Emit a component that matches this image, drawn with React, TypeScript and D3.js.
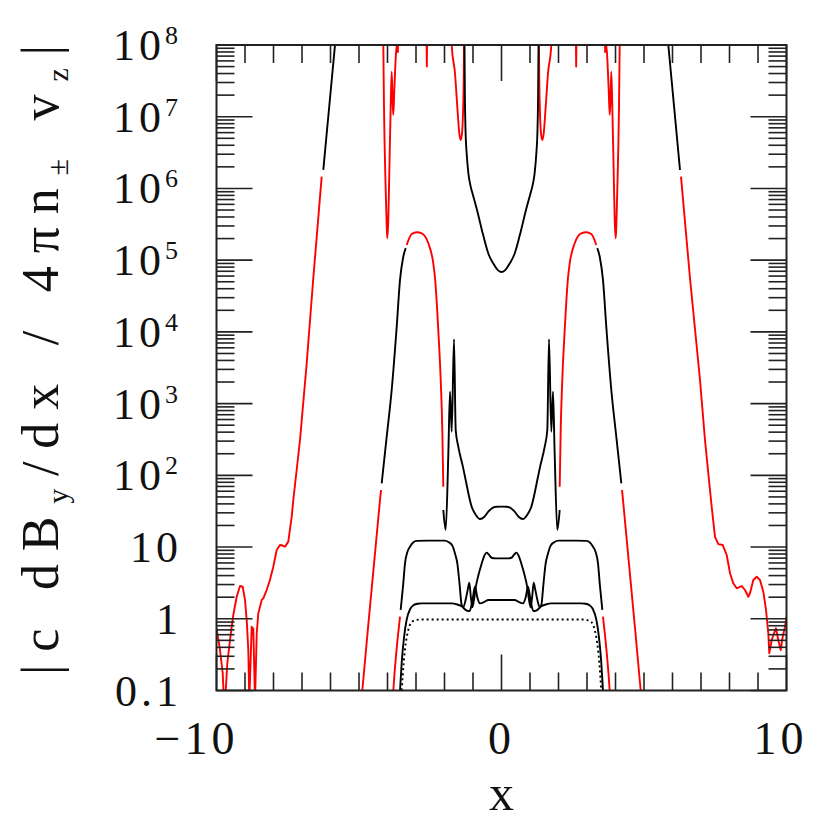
import React, { useEffect, useRef } from 'react';
import * as d3 from 'd3';

type Pt = [number, number];

// outer curve, left side (red part rising from the noisy tail, then black to the top)
const outerLeftRed: Pt[] = [
  [-10, 0.736], [-9.93, 0.5], [-9.877, 0.367], [-9.782, 0.174], [-9.737, 0.07], [-9.69, 0.08],
  [-9.621, 0.239], [-9.526, 0.506], [-9.411, 1.13], [-9.291, 2.03], [-9.175, 2.86], [-9.081, 2.8],
  [-9.0, 1.83], [-8.94, 0.96], [-8.884, 0.367], [-8.849, 0.07], [-8.765, 0.776], [-8.73, 0.628],
  [-8.709, 0.736], [-8.649, 0.07], [-8.589, 0.628], [-8.533, 1.19], [-8.414, 1.83], [-8.358, 1.93],
  [-8.239, 2.52], [-8.125, 3.47], [-8.007, 5.32], [-7.888, 9.1], [-7.772, 10.7], [-7.68, 10.5],
  [-7.596, 10.1], [-7.481, 11.9], [-7.361, 26.5], [-7.305, 45.3], [-7.07, 311], [-6.835, 3650],
  [-6.604, 5.59e4], [-6.309, 1.46e6],
];
const outerLeftBlack: Pt[] = [[-6.253, 1.81e6], [-5.842, 1e8], [-5.75, 2.5e8]];
const outerRightBlack: Pt[] = [[5.75, 2.5e8], [5.853, 1e8], [6.263, 1.81e6]];
const outerRightRed: Pt[] = [
  [6.298, 1.46e6], [6.614, 5.59e4], [6.965, 2135], [7.14, 311], [7.256, 107], [7.375, 36.5],
  [7.491, 13.9], [7.607, 11.0], [7.761, 10.7], [7.902, 7.75], [8.018, 4.31], [8.133, 3.12],
  [8.253, 2.66], [8.428, 2.86], [8.544, 2.52], [8.66, 2.03], [8.719, 2.27], [8.835, 3.47],
  [8.954, 3.86], [9.07, 3.47], [9.186, 2.39], [9.281, 1.33], [9.361, 0.628], [9.396, 0.33],
  [9.481, 0.506], [9.561, 0.628], [9.632, 0.736], [9.712, 0.506], [9.796, 0.367], [9.867, 0.562],
  [9.947, 0.776], [10.0, 1.07],
];

// red dips hanging from the top near x = -4 and x = 4
const dipLeft: Pt[] = [
  [-4.18, 3e8], [-4.147, 1e8], [-4.123, 1.38e7], [-4.063, 9.5e5], [-4.028, 2.93e5], [-4.007, 2.02e5],
  [-3.972, 3.63e5], [-3.937, 1.63e6], [-3.888, 1.38e7], [-3.853, 4.25e7], [-3.82, 1.6e7],
  [-3.796, 1.06e7], [-3.761, 2.36e7], [-3.702, 7.67e7], [-3.677, 1e8], [-3.66, 1.5e8],
];
const dipRight: Pt[] = [
  [3.66, 1.5e8], [3.677, 1e8], [3.702, 7.67e7], [3.761, 2.36e7], [3.796, 1.06e7], [3.82, 1.6e7],
  [3.853, 4.25e7], [3.888, 1.38e7], [3.937, 1.63e6], [3.972, 3.63e5], [4.007, 2.02e5],
  [4.028, 2.93e5], [4.063, 9.5e5], [4.123, 1.38e7], [4.147, 1e8], [4.18, 3e8],
];
const spikesTop: Pt[][] = [
  [[-3.65, 2e8], [-3.635, 8e7], [-3.62, 2e8]],
  [[-2.635, 2e8], [-2.62, 5e7], [-2.605, 2e8]],
  [[2.605, 2e8], [2.62, 5e7], [2.635, 2e8]],
  [[3.62, 2e8], [3.635, 8e7], [3.65, 2e8]],
];

// the humped curve peaking near 2.4e5
const humpLeftRed: Pt[] = [[-4.95, 0.052], [-4.884, 0.1], [-4.263, 45.5], [-4.228, 62.5]];
const humpLeftBlack: Pt[] = [
  [-4.204, 77.4], [-4.028, 346], [-3.853, 1549], [-3.677, 1.18e4], [-3.561, 5.3e4], [-3.45, 1.1e5],
  [-3.361, 1.47e5],
];
const humpLeftTop: Pt[] = [
  [-3.326, 1.63e5], [-3.151, 2.32e5], [-2.975, 2.45e5], [-2.8, 2.37e5], [-2.568, 1.72e5],
  [-2.393, 9.0e4], [-2.333, 5.65e4], [-2.218, 1.06e4], [-2.133, 2135], [-2.077, 429], [-2.042, 69.5],
];
const humpRightTop: Pt[] = [
  [2.042, 69.5], [2.077, 429], [2.133, 2135], [2.218, 1.06e4], [2.333, 5.65e4], [2.393, 9.0e4],
  [2.568, 1.72e5], [2.8, 2.37e5], [2.975, 2.45e5], [3.151, 2.32e5], [3.326, 1.63e5],
];
const humpRightBlack: Pt[] = [
  [3.361, 1.47e5], [3.45, 1.1e5], [3.561, 5.3e4], [3.677, 1.18e4], [3.853, 1549], [4.028, 346],
  [4.204, 77.4],
];
const humpRightRed: Pt[] = [[4.228, 62.5], [4.263, 45.5], [4.884, 0.1], [4.95, 0.052]];

// red dips beside the central bowl
const bowlDipLeft: Pt[] = [
  [-1.77, 2e8], [-1.747, 1e8], [-1.632, 4.04e7], [-1.551, 1.38e7], [-1.481, 5.87e6], [-1.432, 4.74e6],
  [-1.386, 5.87e6], [-1.351, 1.12e7], [-1.326, 3.25e7], [-1.31, 1.5e8],
];
const bowlDipRight: Pt[] = [
  [1.31, 1.5e8], [1.326, 3.25e7], [1.351, 1.12e7], [1.386, 5.87e6], [1.432, 4.74e6], [1.481, 5.87e6],
  [1.551, 1.38e7], [1.632, 4.04e7], [1.747, 1e8], [1.77, 2e8],
];
const bowl: Pt[] = [
  [-1.305, 2e8], [-1.285, 2e7], [-1.26, 6e6], [-1.22, 3.0e6], [-1.16, 1.6e6], [-1.1, 1.15e6],
  [-0.99, 7.8e5], [-0.87, 5.2e5], [-0.639, 2.2e5], [-0.45, 1.2e5], [-0.288, 9.0e4], [-0.12, 7.2e4],
  [0, 6.84e4], [0.12, 7.2e4], [0.288, 9.0e4], [0.45, 1.2e5], [0.639, 2.2e5], [0.87, 5.2e5],
  [0.99, 7.8e5], [1.1, 1.15e6], [1.16, 1.6e6], [1.22, 3.0e6], [1.26, 6e6], [1.285, 2e7], [1.305, 2e8],
];

// spiky curve around 30
const spiky: Pt[] = [
  [-2.042, 32.9], [-1.958, 17.3], [-1.865, 203], [-1.807, 1466], [-1.747, 406], [-1.667, 7890],
  [-1.607, 429], [-1.516, 251], [-1.351, 130], [-1.281, 95.7], [-1.046, 36.5], [-0.9, 28],
  [-0.754, 24.6], [-0.6, 26.5], [-0.463, 31.1], [-0.3, 35.5], [-0.168, 36.5], [0, 36.6],
  [0.168, 36.5], [0.3, 35.5], [0.463, 31.1], [0.6, 26.5], [0.754, 24.6], [0.9, 28], [1.046, 36.5],
  [1.281, 95.7], [1.351, 130], [1.516, 251], [1.607, 429], [1.667, 7890], [1.747, 406],
  [1.807, 1466], [1.865, 203], [1.958, 17.3], [2.042, 32.9],
];

// plateau near 12
const plateauLeftRed: Pt[] = [[-3.83, 0.06], [-3.796, 0.1], [-3.56, 1.07]];
const plateau: Pt[] = [
  [-3.538, 1.33], [-3.45, 3.0], [-3.386, 5.93], [-3.3, 8.6], [-3.211, 10.1], [-3.1, 11.6],
  [-2.977, 12.2], [-2.6, 12.3], [-2.0, 12.3], [-1.85, 11.7], [-1.72, 10.4], [-1.62, 7.8],
  [-1.55, 5.93], [-1.47, 3.0], [-1.398, 1.56], [-1.34, 1.45], [-1.25, 1.9], [-1.18, 2.6],
  [-1.129, 3.18], [-1.075, 2.0], [-1.02, 1.45], [-0.96, 1.9], [-0.9, 2.8], [-0.8, 4.2], [-0.7, 5.8],
  [-0.6, 7.6], [-0.52, 8.35], [-0.45, 7.9], [-0.35, 7.1], [-0.2, 6.95], [0, 6.95], [0.2, 6.95],
  [0.35, 7.1], [0.45, 7.9], [0.52, 8.35], [0.6, 7.6], [0.7, 5.8], [0.8, 4.2], [0.9, 2.8], [0.96, 1.9],
  [1.02, 1.45], [1.075, 2.0], [1.129, 3.18], [1.18, 2.6], [1.25, 1.9], [1.34, 1.45], [1.398, 1.56],
  [1.47, 3.0], [1.55, 5.93], [1.62, 7.8], [1.72, 10.4], [1.85, 11.7], [2.0, 12.3], [2.6, 12.3],
  [2.977, 12.2], [3.1, 11.6], [3.211, 10.1], [3.3, 8.6], [3.386, 5.93], [3.45, 3.0], [3.538, 1.33],
];
const plateauRightRed: Pt[] = [[3.56, 1.07], [3.796, 0.1], [3.83, 0.06]];

// lower plateau near 1.7
const lowPlateau: Pt[] = [
  [-3.62, 0.04], [-3.56, 0.1], [-3.5, 0.25], [-3.42, 0.55], [-3.33, 0.96], [-3.2, 1.38], [-3.08, 1.55],
  [-2.95, 1.62], [-2.8, 1.64], [-1.75, 1.64], [-1.55, 1.58], [-1.4, 1.5], [-1.22, 1.3], [-1.12, 1.28],
  [-1.02, 1.8], [-0.93, 2.8], [-0.85, 2.0], [-0.754, 1.64], [-0.6, 1.72], [-0.462, 1.83], [0, 1.83],
  [0.462, 1.83], [0.6, 1.72], [0.754, 1.64], [0.85, 2.0], [0.93, 2.8], [1.02, 1.8], [1.12, 1.28],
  [1.22, 1.3], [1.4, 1.5], [1.55, 1.58], [1.75, 1.64], [2.8, 1.64], [2.95, 1.62], [3.08, 1.55],
  [3.2, 1.38], [3.33, 0.96], [3.42, 0.55], [3.5, 0.25], [3.56, 0.1], [3.62, 0.04],
];

// dotted curve near 1
const dotted: Pt[] = [
  [-3.55, 0.045], [-3.5, 0.1], [-3.43, 0.25], [-3.36, 0.45], [-3.27, 0.7], [-3.15, 0.9], [-3.0, 0.96],
  [-2.86, 0.975], [2.86, 0.975], [3.0, 0.96], [3.15, 0.9], [3.27, 0.7], [3.36, 0.45], [3.43, 0.25],
  [3.5, 0.1], [3.55, 0.045],
];

const yTickValues = [0.1, 1, 10, 1e2, 1e3, 1e4, 1e5, 1e6, 1e7, 1e8];
const yTickBase = ['0.1', '1', '10', '10', '10', '10', '10', '10', '10', '10'];
const yTickExp = ['', '', '', '2', '3', '4', '5', '6', '7', '8'];
const xTickValues = [-10, 0, 10];
const xTickLabels = ['\u221210', '0', '10'];

const RED = '#ff0000';
const BLACK = '#000000';

type Seg = { pts: Pt[]; color: string; dash?: string; sharp?: boolean };
const segments: Seg[] = [
  { pts: outerLeftRed, color: RED, sharp: true },
  { pts: outerLeftBlack, color: BLACK },
  { pts: outerRightBlack, color: BLACK },
  { pts: outerRightRed, color: RED, sharp: true },
  { pts: dipLeft, color: RED },
  { pts: dipRight, color: RED },
  ...spikesTop.map((p) => ({ pts: p, color: RED, sharp: true })),
  { pts: humpLeftRed, color: RED },
  { pts: humpLeftBlack, color: BLACK },
  { pts: humpLeftTop, color: RED },
  { pts: humpRightTop, color: RED },
  { pts: humpRightBlack, color: BLACK },
  { pts: humpRightRed, color: RED },
  { pts: bowlDipLeft, color: RED },
  { pts: bowlDipRight, color: RED },
  { pts: bowl, color: BLACK },
  { pts: spiky, color: BLACK },
  { pts: plateauLeftRed, color: RED },
  { pts: plateau, color: BLACK },
  { pts: plateauRightRed, color: RED },
  { pts: lowPlateau, color: BLACK },
  { pts: dotted, color: BLACK, dash: '2,3' },
];

const App = () => {
  const svgRef = useRef<SVGSVGElement>(null);

  useEffect(() => {
    const W = 830;
    const H = 830;
    const L = 216.5, R = 786.5, T = 45, B = 690.5;
    const font = '"Liberation Serif", "DejaVu Serif", serif';

    const svg = d3.select(svgRef.current).attr('width', W).attr('height', H);
    svg.selectAll('*').remove();

    const x = d3.scaleLinear().domain([-10, 10]).range([L, R]);
    const y = d3.scaleLog().domain([0.1, 1e8]).range([B, T]);

    svg.append('defs').append('clipPath').attr('id', 'plotClip')
      .append('rect').attr('x', L).attr('y', T).attr('width', R - L).attr('height', B - T);

    const g = svg.append('g').attr('clip-path', 'url(#plotClip)');
    segments.forEach((s) => {
      const line = d3.line<Pt>()
        .x((d) => x(d[0]))
        .y((d) => y(d[1]))
        .curve(s.sharp ? d3.curveLinear : d3.curveMonotoneX);
      g.append('path')
        .attr('d', line(s.pts))
        .attr('fill', 'none')
        .attr('stroke', s.color)
        .attr('stroke-width', 1.9)
        .attr('stroke-linejoin', 'round')
        .attr('stroke-dasharray', s.dash || null);
    });

    // ticks, pointing inward on all four sides
    const ticks = svg.append('g').attr('stroke', '#222').attr('stroke-width', 1.6);
    d3.range(-10, 11).forEach((v) => {
      const len = v % 10 === 0 ? 36 : 18;
      ticks.append('line').attr('x1', x(v)).attr('x2', x(v)).attr('y1', B).attr('y2', B - len);
      ticks.append('line').attr('x1', x(v)).attr('x2', x(v)).attr('y1', T).attr('y2', T + len);
    });
    d3.range(-1, 8).forEach((e) => {
      d3.range(1, 10).forEach((k) => {
        const v = k * Math.pow(10, e);
        const len = k === 1 ? 36 : 18;
        ticks.append('line').attr('x1', L).attr('x2', L + len).attr('y1', y(v)).attr('y2', y(v));
        ticks.append('line').attr('x1', R).attr('x2', R - len).attr('y1', y(v)).attr('y2', y(v));
      });
    });

    svg.append('rect').attr('x', L).attr('y', T).attr('width', R - L).attr('height', B - T)
      .attr('fill', 'none').attr('stroke', '#222').attr('stroke-width', 2);

    // y tick labels
    yTickValues.forEach((v, i) => {
      const t = svg.append('text')
        .attr('x', 182).attr('y', y(v) + 15)
        .attr('text-anchor', 'end')
        .attr('font-family', font).attr('font-size', 44)
        .attr('letter-spacing', 4)
        .attr('fill', '#111');
      t.append('tspan').text(yTickBase[i]);
      if (yTickExp[i]) {
        t.append('tspan').attr('font-size', 26).attr('dy', -16).text(yTickExp[i]);
      }
    });

    // x tick labels
    xTickValues.forEach((v, i) => {
      svg.append('text')
        .attr('x', i === 0 ? x(v) - 20 : i === 2 ? x(v) - 6 : x(v))
        .attr('y', 754)
        .attr('text-anchor', 'middle')
        .attr('font-family', font).attr('font-size', 46)
        .attr('letter-spacing', 4)
        .attr('fill', '#111')
        .text(xTickLabels[i]);
    });

    svg.append('text')
      .attr('x', 501.5).attr('y', 810)
      .attr('text-anchor', 'middle')
      .attr('font-family', font).attr('font-size', 50)
      .attr('fill', '#111')
      .text('x');

    const yt = svg.append('text')
      .attr('transform', 'translate(58,360) rotate(-90)')
      .attr('text-anchor', 'middle')
      .attr('font-family', font).attr('font-size', 52)
      .attr('fill', '#111')
      .attr('textLength', 630).attr('lengthAdjust', 'spacing');
    yt.append('tspan').text('|c dB');
    yt.append('tspan').attr('font-size', 30).attr('dy', 10).text('y');
    yt.append('tspan').attr('dy', -10).text('/dx  /  4\u03c0n');
    yt.append('tspan').attr('font-size', 30).attr('dy', 10).text('\u00b1');
    yt.append('tspan').attr('dy', -10).text(' v');
    yt.append('tspan').attr('font-size', 30).attr('dy', 10).text('z');
    yt.append('tspan').attr('dy', -10).text('|');
  }, []);

  return (
    <svg
      ref={svgRef}
      style={{ position: 'absolute', left: 0, top: 0, background: '#fff' }}
    />
  );
};

export default App;
